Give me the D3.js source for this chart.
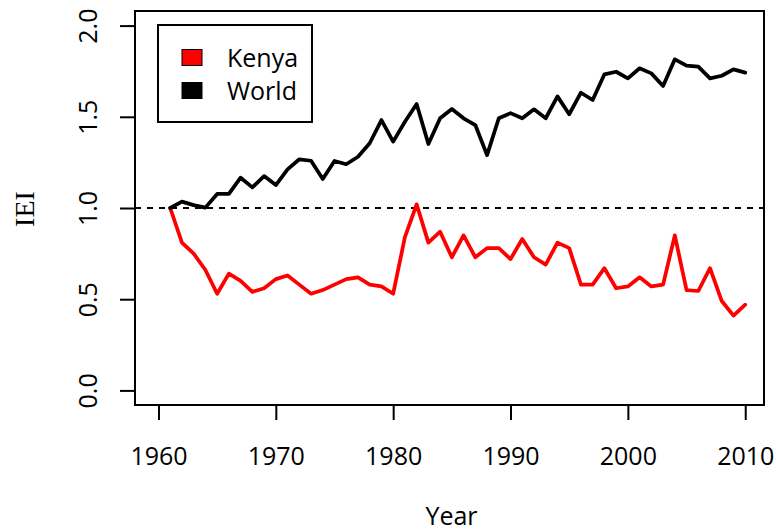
<!DOCTYPE html>
<html>
<head>
<meta charset="utf-8">
<script src="https://cdn.jsdelivr.net/npm/d3@7"></script>
<style>
  body { margin: 0; background: #fff; }
  svg { display: block; }
  text { font-family: "Open Sans", sans-serif; fill: #000; }
</style>
</head>
<body>
<div id="container"></div>
<script>
// years 1961..2010
var years = d3.range(1961, 2011);

var kenya = [1.00, 0.81, 0.75, 0.66, 0.53, 0.64, 0.60, 0.54, 0.56, 0.61,
             0.63, 0.58, 0.53, 0.55, 0.58, 0.61, 0.62, 0.58, 0.57, 0.53,
             0.84, 1.02, 0.81, 0.87, 0.73, 0.85, 0.73, 0.78, 0.78, 0.72,
             0.83, 0.73, 0.69, 0.81, 0.78, 0.58, 0.58, 0.67, 0.56, 0.57,
             0.62, 0.57, 0.58, 0.85, 0.55, 0.545, 0.67, 0.49, 0.41, 0.47];

var world = [1.00, 1.035, 1.016, 1.002, 1.077, 1.077, 1.166, 1.113, 1.175, 1.126,
             1.212, 1.267, 1.259, 1.159, 1.258, 1.24, 1.281, 1.355, 1.482, 1.364,
             1.473, 1.57, 1.351, 1.492, 1.543, 1.492, 1.455, 1.29, 1.492, 1.52,
             1.492, 1.541, 1.492, 1.612, 1.514, 1.632, 1.592, 1.733, 1.747, 1.711,
             1.766, 1.738, 1.669, 1.815, 1.78, 1.775, 1.711, 1.725, 1.76, 1.742];

var xTicks = [1960, 1970, 1980, 1990, 2000, 2010];
var yTicks = [0, 0.5, 1, 1.5, 2];
var seriesNames = ['Kenya', 'World'];
var seriesColors = ['#ff0000', '#000000'];

var width = 776, height = 531;
var box = {left: 135, right: 764, top: 11, bottom: 405};

var svg = d3.select('#container').append('svg')
  .attr('width', width)
  .attr('height', height);

var x = d3.scaleLinear().domain([1958, 2011.6]).range([box.left, box.right]);
var y = d3.scaleLinear().domain([-0.08, 2.08]).range([box.bottom, box.top]);

// reference line at 1
svg.append('line')
  .attr('x1', box.left).attr('x2', box.right)
  .attr('y1', y(1)).attr('y2', y(1))
  .attr('stroke', '#000')
  .attr('stroke-width', 2)
  .attr('stroke-dasharray', '6,6');

var line = d3.line()
  .x(function(d) { return x(d[0]); })
  .y(function(d) { return y(d[1]); });

[kenya, world].forEach(function(vals, i) {
  svg.append('path')
    .datum(years.map(function(yr, j) { return [yr, vals[j]]; }))
    .attr('d', line)
    .attr('fill', 'none')
    .attr('stroke', seriesColors[i])
    .attr('stroke-width', 3.75)
    .attr('stroke-linejoin', 'round')
    .attr('stroke-linecap', 'round');
});

// axes
var xAxis = svg.append('g')
  .attr('transform', 'translate(0,' + box.bottom + ')')
  .call(d3.axisBottom(x).tickValues(xTicks).tickSize(15).tickFormat(d3.format('d')));
xAxis.select('.domain').remove();
xAxis.selectAll('line').attr('stroke', '#000').attr('stroke-width', 2);
xAxis.selectAll('text')
  .attr('y', 0).attr('dy', 0)
  .attr('transform', 'translate(0,60)')
  .style('font-size', '25px')
  .style('font-family', '"Open Sans", sans-serif');

var yAxis = svg.append('g')
  .attr('transform', 'translate(' + box.left + ',0)')
  .call(d3.axisLeft(y).tickValues(yTicks).tickSize(15).tickFormat(d3.format('.1f')));
yAxis.select('.domain').remove();
yAxis.selectAll('line').attr('stroke', '#000').attr('stroke-width', 2);
yAxis.selectAll('text')
  .attr('x', 0).attr('dy', '0.36em')
  .attr('text-anchor', 'middle')
  .attr('transform', 'translate(-47,0) rotate(-90)')
  .style('font-size', '25px')
  .style('font-family', '"Open Sans", sans-serif');

// plot box
svg.append('rect')
  .attr('x', box.left).attr('y', box.top)
  .attr('width', box.right - box.left)
  .attr('height', box.bottom - box.top)
  .attr('fill', 'none')
  .attr('stroke', '#000')
  .attr('stroke-width', 2);

// axis titles
svg.append('text')
  .attr('x', (box.left + box.right) / 2 + 2)
  .attr('y', 525)
  .attr('text-anchor', 'middle')
  .style('font-size', '25px')
  .text('Year');

svg.append('text')
  .attr('transform', 'translate(24,209) rotate(-90)')
  .attr('dy', '0.35em')
  .attr('text-anchor', 'middle')
  .style('font-family', '"Liberation Serif", serif')
  .style('font-size', '28px')
  .text('IEI');

// legend
var legend = svg.append('g');
legend.append('rect')
  .attr('x', 158).attr('y', 25)
  .attr('width', 154).attr('height', 97)
  .attr('fill', '#fff')
  .attr('stroke', '#000')
  .attr('stroke-width', 2);

var item = legend.selectAll('g.item')
  .data(seriesNames)
  .enter().append('g')
  .attr('class', 'item')
  .attr('transform', function(d, i) { return 'translate(0,' + (57.5 + i * 33) + ')'; });

item.append('rect')
  .attr('x', 182).attr('y', -8)
  .attr('width', 20).attr('height', 16)
  .attr('fill', function(d, i) { return seriesColors[i]; })
  .attr('stroke', '#000')
  .attr('stroke-width', 1);

item.append('text')
  .attr('x', 227)
  .attr('dy', '0.36em')
  .style('font-size', '25px')
  .text(function(d) { return d; });
</script>
</body>
</html>
